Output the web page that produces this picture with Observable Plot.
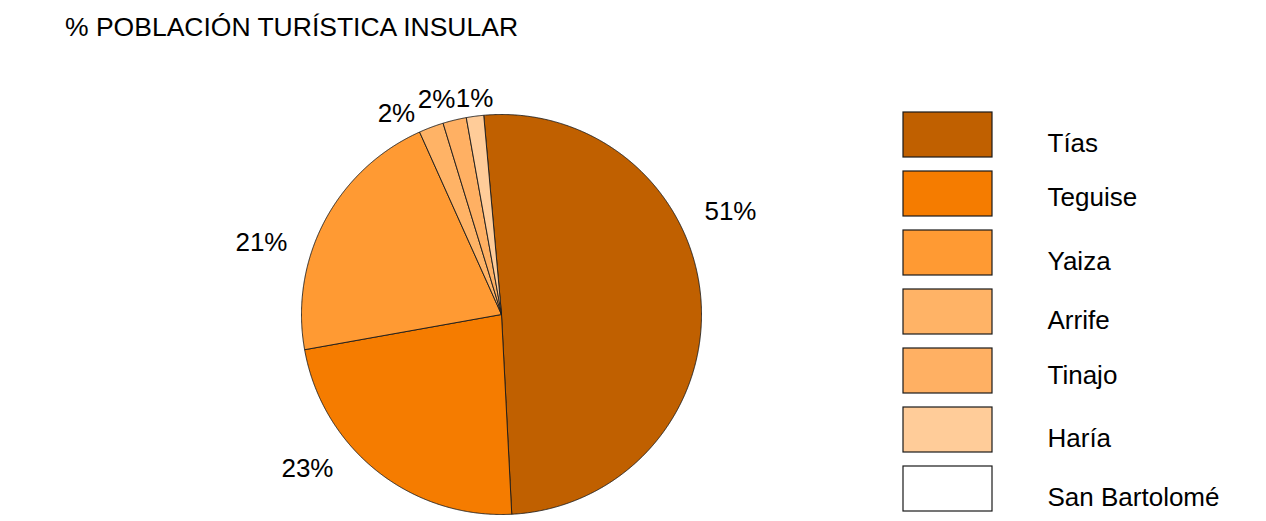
<!DOCTYPE html>
<html><head><meta charset="utf-8">
<script src="https://cdn.jsdelivr.net/npm/d3@7"></script>
<script src="https://cdn.jsdelivr.net/npm/@observablehq/plot@0.6"></script>
<style>
html,body{margin:0;padding:0;background:#fff;}
#chart{position:relative;width:1266px;height:521px;overflow:hidden;font-family:"Liberation Sans",Arial,sans-serif;}
#chart svg{position:absolute;left:0;top:0;}
#title{position:absolute;left:65px;top:14px;font-size:26.5px;line-height:26px;color:#000;white-space:nowrap;}
</style></head><body>
<div id="chart"><div id="title">% POBLACIÓN TURÍSTICA INSULAR</div></div>
<script>
// Data
const municipios = ["Tías", "Teguise", "Yaiza", "Arrife", "Tinajo", "Haría", "San Bartolomé"];
const shares = [50.6, 23.0, 21.1, 2.0, 1.9, 1.4, 0];   // % of island tourist population
const colors = ["#C06000", "#F57C00", "#FF9A33", "#FFB366", "#FFB063", "#FFCC99", "#FFFFFF"];

// Layout (kept apart from the data)
const firstSliceAngleDeg = -5.1;
const labelAngleDeg = [65.8, 231.6, 286.7, 332.4, 343.2, 352.9];
const labelRadius = [1.255, 1.238, 1.253, 1.134, 1.123, 1.088];
const legendTextNudge = [0, -5, 0, 0, -4, 0, 0];

const W = 1266, H = 521;
const rad = d => d * Math.PI / 180;

const rows = municipios.map((name, i) => ({name, value: shares[i], color: colors[i]}));
const arcs = d3.pie().sort(null).value(d => d.value)
  .startAngle(rad(firstSliceAngleDeg)).endAngle(rad(firstSliceAngleDeg) + 2 * Math.PI)(rows)
  .filter(a => a.data.value > 0);

function slicePoints(a) {
  const pts = [{x: 0, y: 0}];
  const n = Math.max(2, Math.ceil((a.endAngle - a.startAngle) / rad(0.25)));
  for (let k = 0; k <= n; k++) {
    const t = a.startAngle + (a.endAngle - a.startAngle) * k / n;
    pts.push({x: Math.sin(t), y: Math.cos(t)});
  }
  pts.push({x: 0, y: 0});
  return pts;
}

const labels = arcs.map((a, i) => ({
  text: Math.round(a.data.value) + "%",
  x: labelRadius[i] * Math.sin(rad(labelAngleDeg[i])),
  y: labelRadius[i] * Math.cos(rad(labelAngleDeg[i]))
}));

const pie = Plot.plot({
  width: W, height: H,
  x: {domain: [-1, 1], range: [301, 701], axis: null},
  y: {domain: [-1, 1], range: [514, 114], axis: null},
  style: {fontFamily: "'Liberation Sans', Arial, sans-serif", background: "transparent", overflow: "visible"},
  marks: [
    ...arcs.map(a => Plot.line(slicePoints(a), {x: "x", y: "y", fill: a.data.color, stroke: "#1a1a1a", strokeWidth: 0.9, strokeLinejoin: "round"})),
    Plot.text(labels, {x: "x", y: "y", text: "text", fontSize: 26, fill: "#000", textAnchor: "middle", lineAnchor: "middle"})
  ]
});

const legend = Plot.plot({
  width: W, height: H,
  x: {domain: [0, 1], range: [903, 992], axis: null},
  y: {type: "band", domain: municipios, range: [112, 513], paddingInner: 0.236, paddingOuter: 0, align: 0, axis: null},
  color: {domain: municipios, range: colors},
  style: {fontFamily: "'Liberation Sans', Arial, sans-serif", background: "transparent", overflow: "visible"},
  marks: [
    Plot.barX(municipios, {x1: 0, x2: 1, y: d => d, fill: d => d, stroke: "#1a1a1a", strokeWidth: 1.2}),
    ...municipios.map((m, i) => Plot.text([m], {x: 1, y: d => d, text: d => d, dx: 55, dy: 9 + legendTextNudge[i], fontSize: 26, fill: "#000", textAnchor: "start", lineAnchor: "middle"}))
  ]
});

const chart = document.getElementById("chart");
chart.appendChild(pie);
chart.appendChild(legend);
</script>
</body></html>
